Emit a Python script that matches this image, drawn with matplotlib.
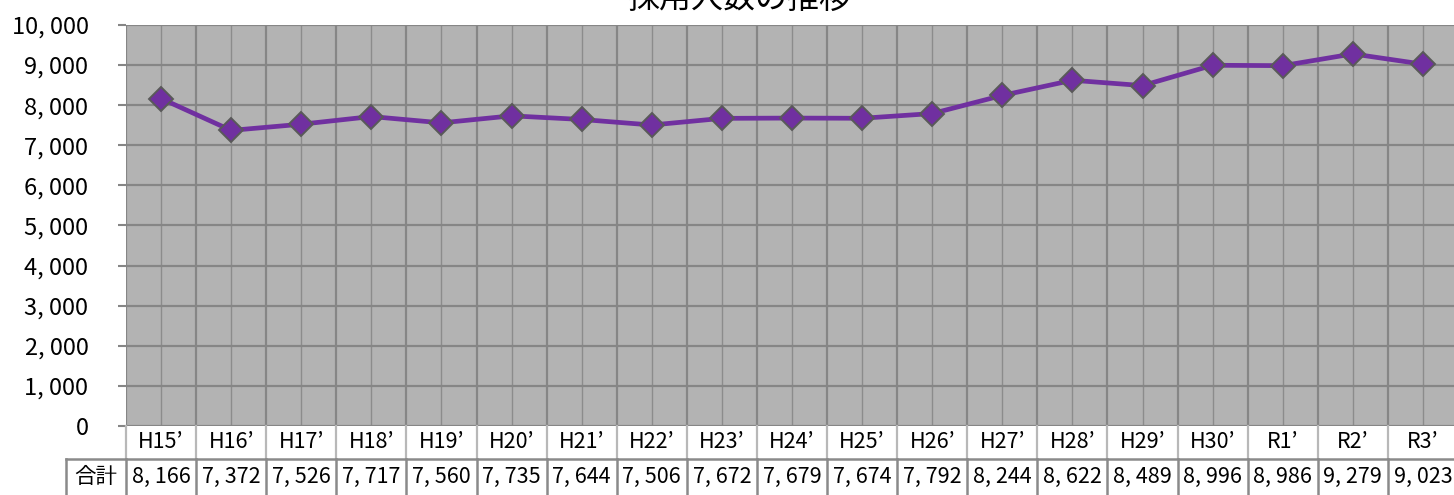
import matplotlib
matplotlib.use("Agg")
import matplotlib.pyplot as plt
import matplotlib.transforms as mtransforms
from matplotlib.ticker import FixedLocator, FuncFormatter, MultipleLocator

plt.rcParams['font.family'] = ['Noto Sans CJK JP', 'DejaVu Sans']

# data
years = ["H15’", "H16’", "H17’", "H18’", "H19’", "H20’", "H21’", "H22’", "H23’", "H24’",
         "H25’", "H26’", "H27’", "H28’", "H29’", "H30’", "R1’", "R2’", "R3’"]
totals = [8166, 7372, 7526, 7717, 7560, 7735, 7644, 7506, 7672, 7679,
          7674, 7792, 8244, 8622, 8489, 8996, 8986, 9279, 9023]
row_label = "合計"
title = "採用人数の推移"

def jp_num(v):
    # the original font draws the comma half-width, so it reads "8, 166"
    return f"{int(v):,}".replace(",", ", ")

W, H = 1454, 495
fig = plt.figure(figsize=(W / 100, H / 100), dpi=100)
ax = fig.add_axes([126 / W, 1 - 426 / H, 1332 / W, 401 / H])

n = len(years)
x = list(range(n))
ax.set_facecolor("#b3b3b3")
ax.set_xlim(-0.5, n - 0.5)
ax.set_ylim(0, 10000)

# grid: boundaries between years (major), year centres (minor)
ax.xaxis.set_major_locator(FixedLocator([i - 0.5 for i in range(n + 1)]))
ax.xaxis.set_minor_locator(FixedLocator(x))
ax.yaxis.set_major_locator(MultipleLocator(1000))
ax.grid(which="major", color="#868686", linewidth=1.6)
ax.grid(which="minor", axis="x", color="#8c8c8c", linewidth=1.0)
ax.set_axisbelow(True)

ax.plot(x, totals, color="#7030a0", linewidth=3.4, marker="D", markersize=12.5,
        markerfacecolor="#7030a0", markeredgecolor="#595959", markeredgewidth=1.4,
        zorder=3)

for s in ax.spines.values():
    s.set_visible(False)
ax.tick_params(axis="x", which="both", length=0, labelbottom=False)
ax.tick_params(axis="y", direction="out", length=6, width=1.5, color="#868686",
               pad=21, labelsize=17)
ax.yaxis.set_major_formatter(FuncFormatter(lambda v, p: jp_num(v)))

# data table under the plot
tr = mtransforms.blended_transform_factory(ax.transData, ax.transAxes)
row1_bot = -0.0823
fig_bot = -426 / 401
label_left = -0.5 - 60 / 70.1
for i, (yr, v) in enumerate(zip(years, totals)):
    ax.text(i, -0.040, yr, transform=tr, ha="center", va="center", fontsize=15.5)
    ax.text(i, -0.128, jp_num(v), transform=tr, ha="center", va="center", fontsize=15.5)
for i in range(n + 1):
    ax.plot([i - 0.5, i - 0.5], [0, row1_bot], transform=tr, color="#b8b8b8",
            linewidth=1.6, clip_on=False)
    ax.plot([i - 0.5, i - 0.5], [row1_bot, fig_bot], transform=tr, color="#8a8a8a",
            linewidth=1.8, clip_on=False)
ax.plot([label_left, n - 0.5], [row1_bot, row1_bot], transform=tr, color="#8a8a8a",
        linewidth=1.8, clip_on=False)
ax.plot([label_left, label_left], [row1_bot, fig_bot], transform=tr, color="#8a8a8a",
        linewidth=1.8, clip_on=False)
ax.text((label_left - 0.5) / 2, -0.128, row_label, transform=tr, ha="center",
        va="center", fontsize=15.5)

fig.text(739 / W, 1 - 8 / H, title, ha="center", va="baseline", fontsize=23)

fig.savefig("out.png", dpi=100)
